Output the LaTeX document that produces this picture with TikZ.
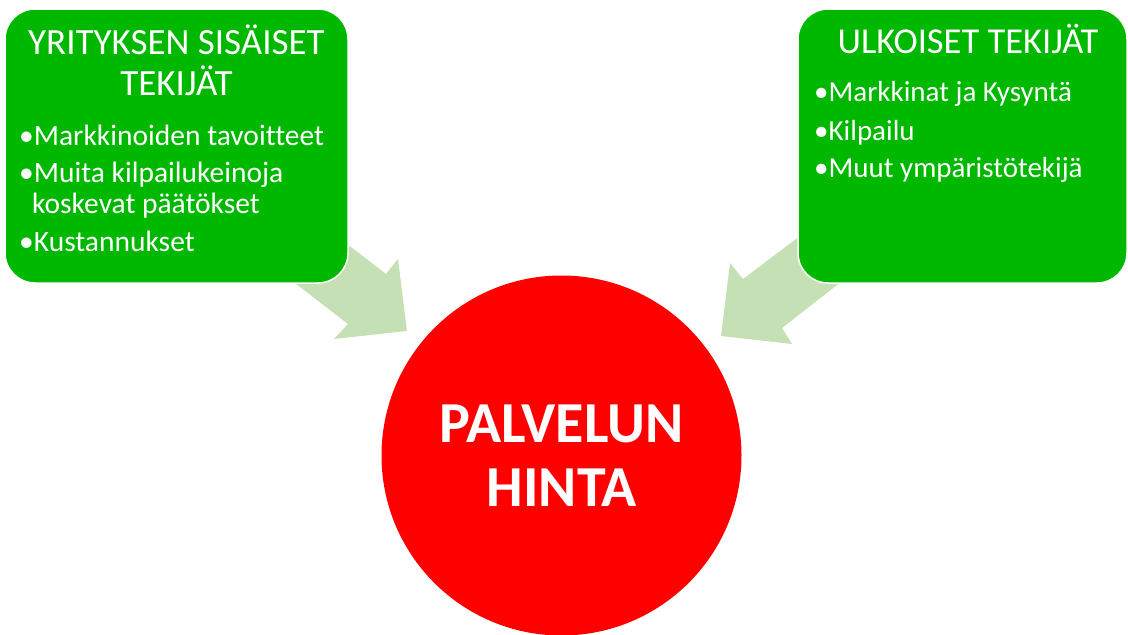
\documentclass[tikz,border=0pt]{standalone}
\usepackage{fontspec}
\setmainfont{Carlito}[Ligatures=NoCommon]
\definecolor{boxgreen}{RGB}{0,184,0}
\definecolor{arrowgreen}{RGB}{197,224,180}
\definecolor{circred}{RGB}{255,0,0}
\begin{document}
\begin{tikzpicture}[x=1pt,y=-1pt,
  factorbox/.style={fill=boxgreen, draw=white, line width=1.5pt, rounded corners=30pt, inner sep=0pt},
  blockarrow/.style={fill=arrowgreen, draw=none},
  pricecircle/.style={circle, fill=circred, draw=none, minimum size=360pt, inner sep=0pt},
  title/.style={text=white, inner sep=0pt, anchor=base, font=\fontsize{37}{40}\selectfont},
  rtitle/.style={text=white, inner sep=0pt, anchor=base, font=\fontsize{36.5}{40}\selectfont},
  item/.style={text=white, inner sep=0pt, anchor=base west, font=\fontsize{29.5}{32}\selectfont},
  ritem/.style={text=white, inner sep=0pt, anchor=base west, font=\fontsize{29}{32}\selectfont},
  big/.style={text=white, inner sep=0pt, anchor=base, font=\fontsize{58}{64}\bfseries\selectfont}]
\useasboundingbox (0,0) rectangle (1128,635);
% block arrows (behind the boxes)
\draw[blockarrow] (307,213) -- (386,274) -- (398,259) -- (407,331) -- (334,339) -- (348,324) -- (269,263) -- cycle;
\draw[blockarrow] (820,221) -- (743,279) -- (730,263) -- (721,336) -- (792,344) -- (782,328) -- (860,267) -- cycle;
% boxes
\node[factorbox, minimum width=343pt, minimum height=274pt] (inner) at (176.5,146) {};
\node[factorbox, minimum width=329pt, minimum height=274pt] (outer) at (962.5,146) {};
% circle
\node[pricecircle] (price) at (561.5,455.5) {};
% left texts
\node[title] (lt1) at (176.5,54) {YRITYKSEN SISÄISET};
\node[title] (lt2) at (176.5,95) {TEKIJÄT};
\node[item] (li1) at (19,145) {•Markkinoiden tavoitteet};
\node[item] (li2) at (19,182) {•Muita kilpailukeinoja};
\node[item] (li3) at (32,213) {koskevat päätökset};
\node[item] (li4) at (19,251) {•Kustannukset};
% right texts
\node[rtitle] (rt1) at (968,53) {ULKOISET TEKIJÄT};
\node[ritem] (ri1) at (814,101) {•Markkinat ja Kysyntä};
\node[ritem] (ri2) at (814,140) {•Kilpailu};
\node[ritem] (ri3) at (814,177) {•Muut ympäristötekijä};
% circle texts
\node[big] (c1) at (561.5,442) {PALVELUN};
\node[big] (c2) at (561.5,506) {HINTA};
\end{tikzpicture}
\end{document}
